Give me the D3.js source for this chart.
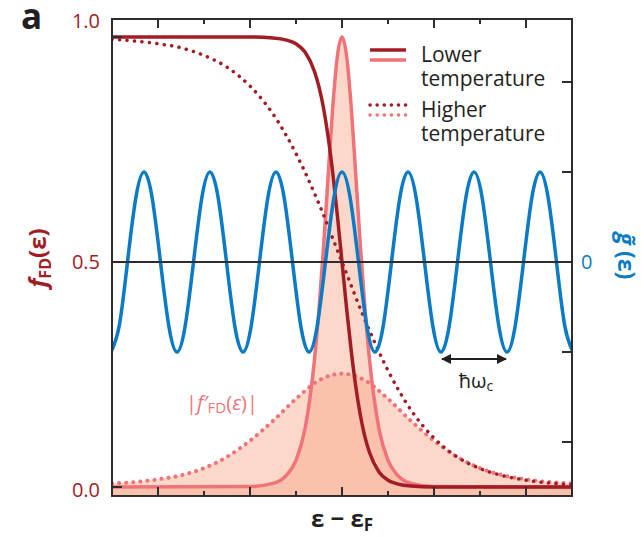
<!DOCTYPE html>
<html>
<head>
<meta charset="utf-8">
<script src="https://cdn.jsdelivr.net/npm/d3@7"></script>
<style>
  body { margin: 0; background: #fff; }
  text { font-family: "Open Sans", "Noto Sans", sans-serif; }
</style>
</head>
<body>
<svg width="641" height="537"></svg>
<script>
// energy axis (arbitrary units, 0 = Fermi level)
const epsLow = [-5, -2, -1.5, -1.2, -1, -0.8, -0.6, -0.5, -0.4, -0.3, -0.2, -0.1, 0, 0.1, 0.2, 0.3, 0.4, 0.5, 0.6, 0.8, 1, 1.2, 1.5, 2, 5]
const fdLow = [1, 1, 0.998, 0.993, 0.985, 0.966, 0.924, 0.889, 0.841, 0.777, 0.697, 0.603, 0.5, 0.397, 0.303, 0.223, 0.159, 0.111, 0.076, 0.034, 0.015, 0.007, 0.002, 0, 0]
const derivLow = [0, 0.001, 0.008, 0.027, 0.059, 0.131, 0.281, 0.395, 0.535, 0.693, 0.845, 0.958, 1, 0.958, 0.845, 0.693, 0.535, 0.395, 0.281, 0.131, 0.059, 0.027, 0.008, 0.001, 0]

const epsHigh = [-5, -4.5, -4, -3.5, -3, -2.5, -2, -1.5, -1, -0.5, 0, 0.5, 1, 1.5, 2, 2.5, 3, 3.5, 4, 4.5, 5]
const fdHigh = [0.995, 0.991, 0.985, 0.976, 0.959, 0.933, 0.891, 0.829, 0.741, 0.629, 0.5, 0.371, 0.259, 0.171, 0.109, 0.067, 0.041, 0.025, 0.015, 0.009, 0.005]
const derivHigh = [0.008, 0.011, 0.017, 0.026, 0.042, 0.067, 0.103, 0.147, 0.196, 0.237, 0.252, 0.237, 0.196, 0.147, 0.103, 0.067, 0.042, 0.026, 0.017, 0.011, 0.008]

// oscillating density of states, read at eighth-period steps
const epsDos = [-5.022, -4.842, -4.663, -4.484, -4.304, -4.125, -3.946, -3.766, -3.587, -3.408, -3.228, -3.049, -2.870, -2.690, -2.511, -2.332, -2.152, -1.973, -1.794, -1.614, -1.435, -1.255, -1.076, -0.897, -0.717, -0.538, -0.359, -0.179,
  0, 0.179, 0.359, 0.538, 0.717, 0.897, 1.076, 1.255, 1.435, 1.614, 1.794, 1.973, 2.152, 2.332, 2.511, 2.690, 2.870, 3.049, 3.228, 3.408, 3.587, 3.766, 3.946, 4.125, 4.304, 4.484, 4.663, 4.842, 5.022]
const dos = [-1, -0.707, 0, 0.707, 1, 0.707, 0, -0.707, -1, -0.707, 0, 0.707, 1, 0.707, 0, -0.707, -1, -0.707, 0, 0.707, 1, 0.707, 0, -0.707, -1, -0.707, 0, 0.707,
  1, 0.707, 0, -0.707, -1, -0.707, 0, 0.707, 1, 0.707, 0, -0.707, -1, -0.707, 0, 0.707, 1, 0.707, 0, -0.707, -1, -0.707, 0, 0.707, 1, 0.707, 0, -0.707, -1]

const xMajorTicks = [-4, -2, 0, 2, 4]
const xMinorTicks = [-3, -1, 1, 3]
const fdTicks = [0, 0.5, 1]
const fdTickLabels = ["0.0", "0.5", "1.0"]
const dosTicks = [-2, -1, 1, 2]
const legendLabels = ["Lower temperature", "Higher temperature"]
const cyclotronSpan = [2.152, 3.587]   // trough to trough

const DARK = "#a11c25", PINK = "#f0737a", BLUE = "#0a7bc4", AXIS = "#2f2c2d"

const svg = d3.select("svg")
const mLeft = 112, mRight = 572, mTop = 19, mBottom = 496

const x = d3.scaleLinear().domain([-5, 5]).range([mLeft, mRight])
const y = d3.scaleLinear().domain([0, 1]).range([487, 37])
const g = d3.scaleLinear().domain([-1, 1]).range([352, 172])
// tick labels sit at the frame ends rather than on the 0/1 ticks
const yLabel = d3.scaleLinear().domain([0, 0.5, 1]).range([490, 262, 21])

svg.append("clipPath").attr("id", "plot")
  .append("rect").attr("x", mLeft).attr("y", mTop).attr("width", mRight - mLeft).attr("height", mBottom - mTop)

const plot = svg.append("g").attr("clip-path", "url(#plot)")

const zip = (xs, ys) => xs.map((v, i) => [v, ys[i]])

const area = d3.area().x(d => x(d[0])).y0(mBottom).y1(d => y(d[1])).curve(d3.curveMonotoneX)
const line = d3.line().x(d => x(d[0])).y(d => y(d[1])).curve(d3.curveMonotoneX)

// shaded derivative areas
plot.append("path").attr("d", area(zip(epsHigh, derivHigh)))
  .attr("fill", "#f9a98a").attr("fill-opacity", 0.45)
plot.append("path").attr("d", area(zip(epsLow, derivLow)))
  .attr("fill", "#f9a98a").attr("fill-opacity", 0.45)

// derivative curves
plot.append("path").attr("d", line(zip(epsHigh, derivHigh)))
  .attr("fill", "none").attr("stroke", PINK).attr("stroke-width", 4)
  .attr("stroke-linecap", "round").attr("stroke-dasharray", "0.1 7")
plot.append("path").attr("d", line(zip(epsLow, derivLow)))
  .attr("fill", "none").attr("stroke", PINK).attr("stroke-width", 3.5)

// Fermi-Dirac curves
plot.append("path").attr("d", line(zip(epsHigh, fdHigh)))
  .attr("fill", "none").attr("stroke", DARK).attr("stroke-width", 3.5)
  .attr("stroke-linecap", "round").attr("stroke-dasharray", "0.1 7.4")
plot.append("path").attr("d", line(zip(epsLow, fdLow)))
  .attr("fill", "none").attr("stroke", DARK).attr("stroke-width", 3.5)

// half line / zero of g
svg.append("line").attr("x1", mLeft).attr("x2", mRight).attr("y1", y(0.5)).attr("y2", y(0.5))
  .attr("stroke", AXIS).attr("stroke-width", 1.8)

// oscillating DOS
plot.append("path")
  .attr("d", d3.line().x(d => x(d[0])).y(d => g(d[1])).curve(d3.curveNatural)(zip(epsDos, dos)))
  .attr("fill", "none").attr("stroke", BLUE).attr("stroke-width", 3.5)

// frame
svg.append("rect").attr("x", mLeft).attr("y", mTop).attr("width", mRight - mLeft).attr("height", mBottom - mTop)
  .attr("fill", "none").attr("stroke", AXIS).attr("stroke-width", 2)

const ticks = svg.append("g").attr("stroke", AXIS).attr("stroke-width", 2)
xMajorTicks.forEach(v => {
  ticks.append("line").attr("x1", x(v)).attr("x2", x(v)).attr("y1", mBottom).attr("y2", mBottom - 9)
  ticks.append("line").attr("x1", x(v)).attr("x2", x(v)).attr("y1", mTop).attr("y2", mTop + 9)
})
xMinorTicks.forEach(v => {
  ticks.append("line").attr("x1", x(v)).attr("x2", x(v)).attr("y1", mBottom).attr("y2", mBottom - 5)
  ticks.append("line").attr("x1", x(v)).attr("x2", x(v)).attr("y1", mTop).attr("y2", mTop + 5)
})
;[0, 1].forEach(v => {
  ticks.append("line").attr("x1", mLeft).attr("x2", mLeft + 10).attr("y1", y(v)).attr("y2", y(v))
})
dosTicks.forEach(v => {
  ticks.append("line").attr("x1", mRight).attr("x2", mRight - 10).attr("y1", g(v)).attr("y2", g(v))
})

// left tick labels
svg.selectAll(".fdlab").data(fdTicks).enter().append("text")
  .attr("class", "fdlab")
  .attr("x", 100)
  .attr("y", d => yLabel(d))
  .attr("dy", "0.35em")
  .attr("text-anchor", "end")
  .attr("font-size", 20)
  .attr("fill", DARK)
  .text((d, i) => fdTickLabels[i])

svg.append("text").attr("x", 581).attr("y", g(0)).attr("dy", "0.35em")
  .attr("font-size", 20).attr("fill", BLUE).text("0")

// axis titles
const lt = svg.append("text").attr("transform", `translate(46,${y(0.5) - 4}) rotate(-90)`)
  .attr("text-anchor", "middle").attr("font-size", 24).attr("font-weight", "bold").attr("fill", DARK)
lt.append("tspan").attr("font-style", "italic").text("f")
lt.append("tspan").attr("font-size", 16).attr("dy", 5).text("FD")
lt.append("tspan").attr("dy", -5).text("(ε)")

const rt = svg.append("text").attr("transform", `translate(618,${y(0.5) - 6}) rotate(90)`)
  .attr("text-anchor", "middle").attr("font-size", 23).attr("font-weight", "bold").attr("fill", BLUE)
rt.append("tspan").attr("font-style", "italic").text("g\u0303")
rt.append("tspan").text(" (ε)")

const xt = svg.append("text").attr("x", 342).attr("y", 527).attr("text-anchor", "middle")
  .attr("font-size", 24).attr("font-weight", "bold").attr("fill", "#231f20")
xt.append("tspan").text("ε − ε")
xt.append("tspan").attr("font-size", 17).attr("dy", 4).text("F")

svg.append("text").attr("x", 21).attr("y", 29).attr("font-size", 35).attr("font-weight", "bold")
  .attr("fill", "#231f20").text("a")

// derivative label
const dl = svg.append("text").attr("x", 222).attr("y", 410).attr("text-anchor", "middle")
  .attr("font-size", 20).attr("fill", PINK)
dl.append("tspan").text("|")
dl.append("tspan").attr("font-style", "italic").text("f\u2032")
dl.append("tspan").attr("font-size", 15).attr("dy", 3).text("FD")
dl.append("tspan").attr("dy", -3).text("(")
dl.append("tspan").attr("font-style", "italic").text("ε")
dl.append("tspan").text(")|")

// cyclotron spacing arrow
svg.append("defs").html(
  `<marker id="ah" viewBox="0 0 10 10" refX="9" refY="5" markerWidth="5" markerHeight="5" orient="auto-start-reverse">
     <path d="M0,0 L10,5 L0,10 z" fill="#231f20"/></marker>`)
svg.append("line").attr("x1", x(cyclotronSpan[0]) + 1).attr("x2", x(cyclotronSpan[1]) - 1)
  .attr("y1", 359).attr("y2", 359).attr("stroke", "#231f20").attr("stroke-width", 2)
  .attr("marker-start", "url(#ah)").attr("marker-end", "url(#ah)")
const hw = svg.append("text").attr("x", d3.mean(cyclotronSpan.map(x)) + 2).attr("y", 388)
  .attr("text-anchor", "middle").attr("font-size", 20).attr("fill", "#231f20")
hw.append("tspan").text("ħω")
hw.append("tspan").attr("font-size", 14).attr("dy", 3).text("c")

// legend
const leg = svg.append("g")
legendLabels.forEach((lab, i) => {
  const y0 = 50 + i * 55
  const dash = i === 0 ? null : "0.1 7"
  leg.append("line").attr("x1", 370).attr("x2", 406).attr("y1", y0).attr("y2", y0)
    .attr("stroke", DARK).attr("stroke-width", 3.5).attr("stroke-linecap", dash ? "round" : "butt")
    .attr("stroke-dasharray", dash)
  leg.append("line").attr("x1", 370).attr("x2", 406).attr("y1", y0 + 10).attr("y2", y0 + 10)
    .attr("stroke", PINK).attr("stroke-width", 3.5).attr("stroke-linecap", dash ? "round" : "butt")
    .attr("stroke-dasharray", dash)
  const words = lab.split(" ")
  const t = leg.append("text").attr("x", 421).attr("y", y0 + 12).attr("font-size", 21).attr("fill", "#231f20")
  t.append("tspan").text(words[0])
  t.append("tspan").attr("x", 421).attr("dy", 24).text(words[1])
})
</script>
</body>
</html>
